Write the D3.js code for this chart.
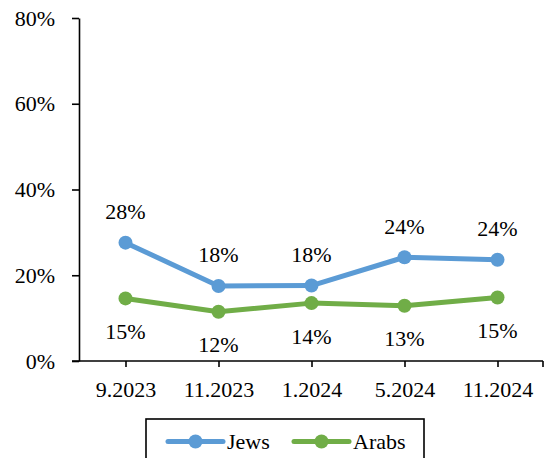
<!DOCTYPE html>
<html>
<head>
<meta charset="utf-8">
<script src="https://cdn.jsdelivr.net/npm/d3@7"></script>
<style>
  html, body { margin: 0; padding: 0; background: #fff; }
  svg { display: block; }
  svg text { font-family: "Liberation Serif", "Times New Roman", serif; }
</style>
</head>
<body>
<svg id="chart" width="544" height="458"></svg>
<script>
// Survey waves
const periods = ["9.2023", "11.2023", "1.2024", "5.2024", "11.2024"];
// Share (%) per wave
const jews = [27.6, 17.5, 17.6, 24.2, 23.6];
const arabs = [14.6, 11.5, 13.5, 12.9, 14.8];
const yTicks = [0, 20, 40, 60, 80];

const series = [
  { name: "Jews", values: jews, color: "#5B9BD5", labelPos: "above" },
  { name: "Arabs", values: arabs, color: "#70AD47", labelPos: "below" }
];

const svg = d3.select("#chart");
const plotLeft = 79, plotRight = 544, plotTop = 18, plotBottom = 361;
const fontSize = 22;
const serif = '"Liberation Serif", "Times New Roman", serif';

const x = d3.scalePoint().domain(periods).range([plotLeft, plotRight]).padding(0.5);
const y = d3.scaleLinear().domain([0, 80]).range([plotBottom, plotTop]);

// Y axis
const yAxis = svg.append("g")
  .attr("transform", `translate(${plotLeft},0)`)
  .call(d3.axisLeft(y).tickValues(yTicks).tickSize(7).tickSizeOuter(0).tickPadding(17)
    .tickFormat(d => d + "%"));
yAxis.selectAll("path, line").attr("stroke", "#000").attr("stroke-width", 1.6);
yAxis.selectAll("text").style("font-size", fontSize + "px").style("font-family", serif)
  .attr("fill", "#000");

// X axis
const xAxis = svg.append("g")
  .attr("transform", `translate(0,${plotBottom})`)
  .call(d3.axisBottom(x).tickSize(6).tickSizeOuter(0));
xAxis.select(".domain").remove();
xAxis.selectAll("line").attr("stroke", "#000").attr("stroke-width", 1.6);
xAxis.selectAll("text").style("font-size", fontSize + "px").style("font-family", serif)
  .attr("fill", "#000")
  .attr("y", 36).attr("dy", null);
svg.append("line")
  .attr("x1", plotLeft - 7).attr("x2", plotRight - 1)
  .attr("y1", plotBottom).attr("y2", plotBottom)
  .attr("stroke", "#000").attr("stroke-width", 1.6);
svg.append("line")
  .attr("x1", plotRight - 1).attr("x2", plotRight - 1)
  .attr("y1", plotBottom).attr("y2", plotBottom + 6)
  .attr("stroke", "#000").attr("stroke-width", 1.6);

// Lines, markers and value labels
const line = d3.line().x((d, i) => x(periods[i])).y(d => y(d));
series.forEach(s => {
  const g = svg.append("g");
  g.append("path")
    .datum(s.values)
    .attr("d", line)
    .attr("fill", "none")
    .attr("stroke", s.color)
    .attr("stroke-width", 5)
    .attr("stroke-linejoin", "round")
    .attr("stroke-linecap", "round");
  g.selectAll("circle")
    .data(s.values)
    .join("circle")
    .attr("cx", (d, i) => x(periods[i]))
    .attr("cy", d => y(d))
    .attr("r", 7)
    .attr("fill", s.color);
  g.selectAll("text")
    .data(s.values)
    .join("text")
    .attr("x", (d, i) => x(periods[i]))
    .attr("y", d => s.labelPos === "above" ? y(d) - 23.5 : y(d) + 40.5)
    .attr("text-anchor", "middle")
    .style("font-size", fontSize + "px").style("font-family", serif)
    .attr("fill", "#000")
    .text(d => Math.round(d) + "%");
});

// Legend
const legend = svg.append("g");
legend.append("rect")
  .attr("x", 146).attr("y", 419)
  .attr("width", 278).attr("height", 60)
  .attr("fill", "#fff").attr("stroke", "#000").attr("stroke-width", 1.6);
const legendItems = [
  { s: series[0], x0: 168, tx: 227 },
  { s: series[1], x0: 294, tx: 353 }
];
legendItems.forEach(({ s, x0, tx }) => {
  legend.append("line")
    .attr("x1", x0).attr("x2", x0 + 55)
    .attr("y1", 441.5).attr("y2", 441.5)
    .attr("stroke", s.color).attr("stroke-width", 5)
    .attr("stroke-linecap", "round");
  legend.append("circle")
    .attr("cx", x0 + 27.5).attr("cy", 441.5).attr("r", 7)
    .attr("fill", s.color);
  legend.append("text")
    .attr("x", tx).attr("y", 449)
    .style("font-size", fontSize + "px").style("font-family", serif)
    .attr("fill", "#000")
    .text(s.name);
});
</script>
</body>
</html>
